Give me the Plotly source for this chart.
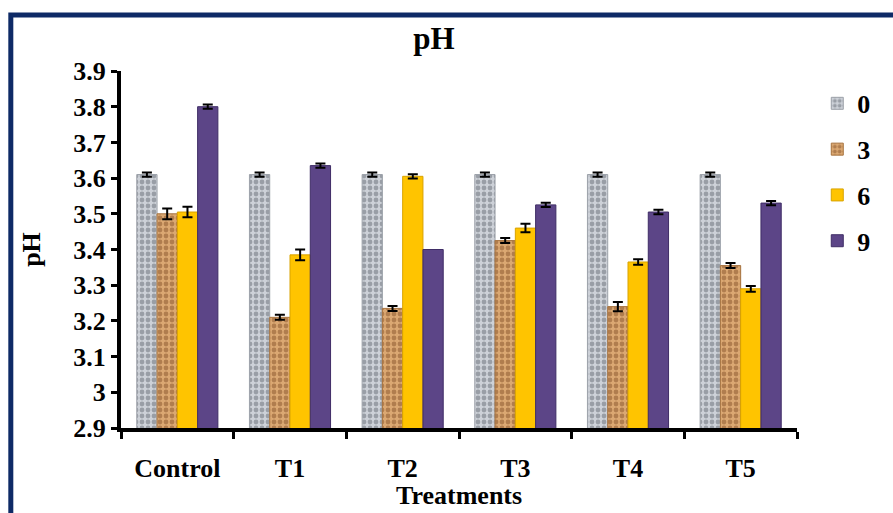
import plotly.graph_objects as go

# pH of each treatment across storage days
treatments = ["Control", "T1", "T2", "T3", "T4", "T5"]
days = ["0", "3", "6", "9"]

ph_day0 = [3.61, 3.61, 3.61, 3.61, 3.61, 3.61]
ph_day3 = [3.50, 3.21, 3.235, 3.425, 3.24, 3.355]
ph_day6 = [3.505, 3.385, 3.605, 3.46, 3.365, 3.29]
ph_day9 = [3.80, 3.635, 3.40, 3.525, 3.505, 3.53]

# standard errors; "NaN" leaves a bar without an error bar
err_day0 = [0.006, 0.006, 0.006, 0.006, 0.006, 0.006]
err_day3 = [0.015, 0.007, 0.007, 0.007, 0.013, 0.007]
err_day6 = [0.015, 0.015, 0.006, 0.012, 0.008, 0.008]
err_day9 = [0.006, 0.006, "NaN", 0.006, 0.006, 0.006]

y_ticks = [2.9, 3.0, 3.1, 3.2, 3.3, 3.4, 3.5, 3.6, 3.7, 3.8, 3.9]
y_tick_text = ["2.9", "3", "3.1", "3.2", "3.3", "3.4", "3.5", "3.6", "3.7", "3.8", "3.9"]

series = [ph_day0, ph_day3, ph_day6, ph_day9]
errors = [err_day0, err_day3, err_day6, err_day9]

styles = [
    dict(color="#C4C8CF", line=dict(color="#9DA2AA", width=1),
         pattern=dict(shape=".", bgcolor="#CDD1D8", fgcolor="#666B73", size=6, solidity=0.5)),
    dict(color="#D49B62", line=dict(color="#A8743F", width=1),
         pattern=dict(shape=".", bgcolor="#DBA872", fgcolor="#85522A", size=6, solidity=0.5)),
    dict(color="#FFC400", line=dict(color="#D9A300", width=1)),
    dict(color="#5C4587", line=dict(color="#3F2D66", width=1)),
]

FONT = "Liberation Serif, Times New Roman, serif"

fig = go.Figure()
for name, vals, errs, st in zip(days, series, errors, styles):
    fig.add_trace(go.Bar(
        x=treatments, y=vals, name="<b>%s</b>" % name, legendgroup=name,
        marker=st,
        error_y=dict(type="data", array=errs, visible=True,
                     color="black", thickness=2, width=5),
    ))

fig.update_layout(
    width=893, height=513,
    margin=dict(l=121, r=96, t=71, b=85, autoexpand=False),
    paper_bgcolor="white", plot_bgcolor="white",
    barmode="group", bargap=0.28, bargroupgap=0,
    font=dict(family=FONT, size=26, color="black"),
    title=dict(text="<b>pH</b>", x=0.463, xref="paper", xanchor="center",
               y=1 - 38 / 513, yref="container", yanchor="middle",
               font=dict(family=FONT, size=31, color="black")),
    legend=dict(x=1.03, xanchor="left", y=0.975, yanchor="top",
                tracegroupgap=9, bgcolor="rgba(0,0,0,0)",
                font=dict(family=FONT, size=26, color="black")),
    showlegend=True,
)

fig.update_xaxes(
    automargin=False,
    showline=True, linecolor="black", linewidth=4,
    ticks="outside", tickson="boundaries", ticklen=7, tickwidth=3, tickcolor="black",
    tickfont=dict(family=FONT, size=26, color="black"),
    ticklabelstandoff=14,
    tickprefix="<b>", ticksuffix="</b>",
    showgrid=False,
)

fig.update_yaxes(
    automargin=False,
    range=[2.9, 3.9], tickvals=y_ticks, ticktext=["<b>%s</b>" % t for t in y_tick_text],
    showline=True, linecolor="black", linewidth=4,
    ticks="outside", ticklen=6, tickwidth=3, tickcolor="black",
    tickfont=dict(family=FONT, size=26, color="black"),
    title=dict(text="<b>pH</b>", standoff=26,
               font=dict(family=FONT, size=26, color="black")),
    showgrid=False, zeroline=False,
)

# x-axis title sits low, near the bottom edge of the chart
fig.add_annotation(text="<b>Treatments</b>", xref="paper", yref="paper",
                   x=0.5, y=-0.232, xanchor="center", yanchor="bottom",
                   showarrow=False, borderpad=0,
                   font=dict(family=FONT, size=26, color="black"))

# dark blue frame around the chart
fig.add_shape(type="rect", xref="paper", yref="paper",
              x0=-0.163, x1=1.6, y0=-0.6, y1=1.157,
              line=dict(color="#0E2A66", width=5), fillcolor="rgba(0,0,0,0)",
              layer="above")

fig.write_html("out.html")
